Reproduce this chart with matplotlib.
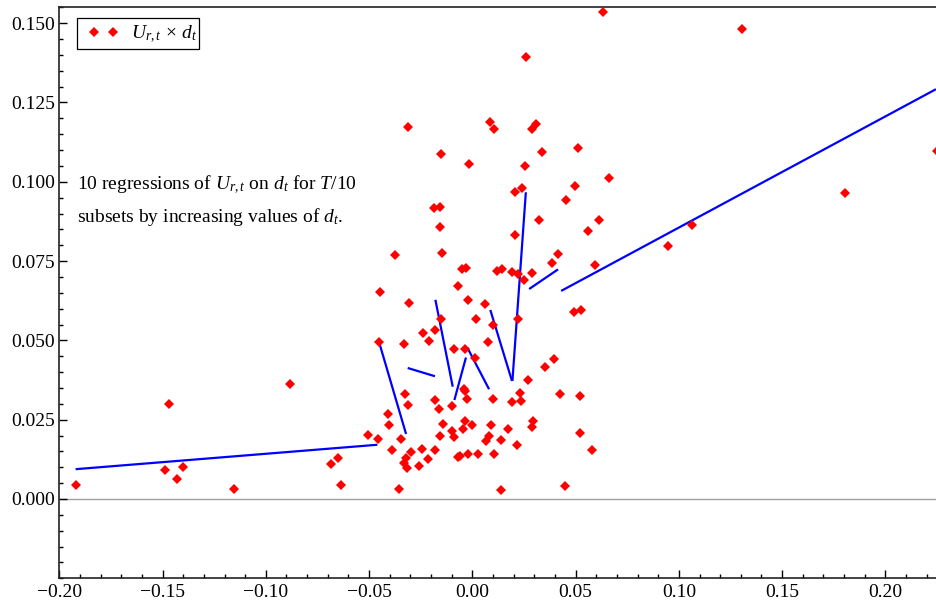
import matplotlib
matplotlib.use("Agg")
import matplotlib.pyplot as plt
from matplotlib.ticker import FixedLocator, MultipleLocator
from matplotlib.patches import Rectangle
import numpy as np

# ---- data: d_t (x) and U_{r,t} (y) ----
d_vals = [
    -0.1921, -0.1470, -0.1488, -0.1429, -0.1401, -0.1155, -0.0883, -0.0684, -0.0652, -0.0634,
    -0.0504, -0.0457, -0.0450, -0.0446, -0.0408, -0.0405, -0.0389, -0.0374, -0.0354, -0.0344,
    -0.0331, -0.0326, -0.0329, -0.0321, -0.0315, -0.0311, -0.0310, -0.0307, -0.0298, -0.0257,
    -0.0244, -0.0239, -0.0215, -0.0211, -0.0184, -0.0181, -0.0179, -0.0179, -0.0163, -0.0155,
    -0.0153, -0.0155, -0.0148, -0.0153, -0.0155, -0.0142, -0.0098, -0.0097, -0.0087, -0.0087,
    -0.0071, -0.0068, -0.0058, -0.0048, -0.0031, -0.0046, -0.0040, -0.0035, -0.0037, -0.0035,
    -0.0026, -0.0022, -0.0019, -0.0015, 0.0000, 0.0013, 0.0019, 0.0029, 0.0063, 0.0068,
    0.0077, 0.0079, 0.0086, 0.0107, 0.0092, 0.0102, 0.0102, 0.0107, 0.0118, 0.0138,
    0.0139, 0.0144, 0.0174, 0.0192, 0.0194, 0.0205, 0.0207, 0.0215, 0.0220, 0.0220,
    0.0230, 0.0237, 0.0242, 0.0249, 0.0254, 0.0259, 0.0271, 0.0288, 0.0291, 0.0294,
    0.0289, 0.0308, 0.0323, 0.0336, 0.0351, 0.0386, 0.0394, 0.0416, 0.0425, 0.0450,
    0.0454, 0.0494, 0.0497, 0.0513, 0.0520, 0.0520, 0.0524, 0.0562, 0.0579, 0.0594,
    0.0614, 0.0631, 0.0663, 0.0949, 0.1064, 0.1305, 0.1805, 0.2248,
]
u_vals = [
    0.0044, 0.0299, 0.0091, 0.0062, 0.0102, 0.0032, 0.0363, 0.0109, 0.0128, 0.0044,
    0.0201, 0.0190, 0.0496, 0.0654, 0.0267, 0.0234, 0.0155, 0.0769, 0.0032, 0.0188,
    0.0489, 0.0332, 0.0114, 0.0128, 0.0097, 0.0297, 0.1172, 0.0619, 0.0149, 0.0105,
    0.0158, 0.0524, 0.0127, 0.0498, 0.0917, 0.0534, 0.0312, 0.0155, 0.0284, 0.0922,
    0.1087, 0.0858, 0.0775, 0.0568, 0.0200, 0.0236, 0.0215, 0.0292, 0.0473, 0.0196,
    0.0670, 0.0133, 0.0137, 0.0724, 0.0729, 0.0222, 0.0348, 0.0341, 0.0245, 0.0472,
    0.0314, 0.0141, 0.0628, 0.1055, 0.0232, 0.0445, 0.0567, 0.0142, 0.0615, 0.0182,
    0.0494, 0.0199, 0.1187, 0.1166, 0.0234, 0.0547, 0.0314, 0.0141, 0.0719, 0.0187,
    0.0028, 0.0726, 0.0220, 0.0715, 0.0305, 0.0832, 0.0969, 0.0171, 0.0709, 0.0568,
    0.0333, 0.0310, 0.0980, 0.0691, 0.1050, 0.1392, 0.0374, 0.1166, 0.0713, 0.0245,
    0.0228, 0.1182, 0.0880, 0.1095, 0.0415, 0.0743, 0.0442, 0.0772, 0.0331, 0.0041,
    0.0943, 0.0588, 0.0987, 0.1108, 0.0325, 0.0207, 0.0595, 0.0845, 0.0155, 0.0738,
    0.0880, 0.1536, 0.1013, 0.0798, 0.0865, 0.1483, 0.0966, 0.1098,
]

# ---- 10 regression segments (start/end in data units) ----
seg_x0 = [-0.1921, -0.0450, -0.0313, -0.0179, -0.0087, -0.0024, 0.0087, 0.0194, 0.0275, 0.0430]
seg_y0 = [0.0094, 0.0491, 0.0413, 0.0628, 0.0312, 0.0477, 0.0596, 0.0372, 0.0662, 0.0656]
seg_x1 = [-0.0460, -0.0321, -0.0181, -0.0095, -0.0031, 0.0081, 0.0192, 0.0259, 0.0415, 0.2245]
seg_y1 = [0.0171, 0.0205, 0.0387, 0.0354, 0.0446, 0.0346, 0.0372, 0.0967, 0.0724, 0.1292]

xtick_vals = [-0.20, -0.15, -0.10, -0.05, 0.00, 0.05, 0.10, 0.15, 0.20]
xtick_labels = ["\u22120.20", "\u22120.15", "\u22120.10", "\u22120.05", "0.00", "0.05", "0.10", "0.15", "0.20"]
ytick_vals = [0.000, 0.025, 0.050, 0.075, 0.100, 0.125, 0.150]
ytick_labels = ["0.000", "0.025", "0.050", "0.075", "0.100", "0.125", "0.150"]

plt.rcParams['font.family'] = ['Liberation Serif', 'DejaVu Serif']
plt.rcParams['mathtext.fontset'] = 'custom'
plt.rcParams['mathtext.rm'] = 'Liberation Serif'
plt.rcParams['mathtext.it'] = 'Liberation Serif:italic'
plt.rcParams['mathtext.bf'] = 'Liberation Serif:bold'

W, H = 936, 604
fig = plt.figure(figsize=(W / 100, H / 100), dpi=100)
ax_l, ax_b, ax_w, ax_h = 59.3, 25.7, 876.7, 571.6
ax = fig.add_axes([ax_l / W, ax_b / H, ax_w / W, ax_h / H])

def axfrac(px, py):
    # pixel (from top-left of image) -> axes fraction
    return (px - ax_l) / ax_w, (H - py - ax_b) / ax_h

ax.axhline(0, color='#a0a0a0', lw=1.0, zorder=1)

for x0, y0, x1, y1 in zip(seg_x0, seg_y0, seg_x1, seg_y1):
    ax.plot([x0, x1], [y0, y1], color='#0000ff', lw=1.6, zorder=2, solid_capstyle='butt')

ax.plot(d_vals, u_vals, linestyle='none', marker='D', markersize=4.6,
        color='#ff0000', markeredgewidth=0, zorder=3,
        label=r'$U_{r,t}\,\times\,d_t$')

ax.set_xlim(-0.2, 0.2245)
ax.set_ylim(-0.025, 0.1552)

ax.xaxis.set_major_locator(FixedLocator(xtick_vals))
ax.set_xticklabels(xtick_labels)
ax.yaxis.set_major_locator(FixedLocator(ytick_vals))
ax.set_yticklabels(ytick_labels)
ax.xaxis.set_minor_locator(MultipleLocator(0.01))
ax.yaxis.set_minor_locator(MultipleLocator(0.005))

ax.tick_params(which='both', direction='in', top=False, right=False, width=1.0, colors='black')
ax.tick_params(which='major', length=5.5, labelsize=14)
ax.tick_params(axis='x', which='major', pad=4)
ax.tick_params(axis='y', which='major', pad=3)
ax.tick_params(which='minor', length=3)

ax.spines['right'].set_visible(False)
for s in ['left', 'bottom', 'top']:
    ax.spines[s].set_linewidth(1.2)
    ax.spines[s].set_color('#222222')

# legend frame drawn manually, content placed inside
fx0, fy_top = axfrac(76.7, 18.3)
fx1, fy_bot = axfrac(199.3, 49.3)
ax.add_patch(Rectangle((fx0, fy_bot), fx1 - fx0, fy_top - fy_bot, transform=ax.transAxes,
                       facecolor='white', edgecolor='black', lw=0.9, zorder=5, clip_on=False))
lx, ly = axfrac(82.0, 18.3)
leg = ax.legend(loc='upper left', bbox_to_anchor=(lx, ly), borderaxespad=0,
                numpoints=2, frameon=False, fontsize=14, handlelength=1.6,
                handletextpad=0.6, borderpad=0.3)
leg.set_zorder(6)

t1x, t1y = axfrac(77.3, 189.3)
t2x, t2y = axfrac(77.3, 222.5)
ax.text(t1x, t1y, r'10 regressions of $U_{r,t}$ on $d_t$ for $T/10$',
        transform=ax.transAxes, ha='left', va='baseline', fontsize=14)
ax.text(t2x, t2y, r'subsets by increasing values of $d_t$.',
        transform=ax.transAxes, ha='left', va='baseline', fontsize=14)

fig.savefig('out.png', dpi=100)
